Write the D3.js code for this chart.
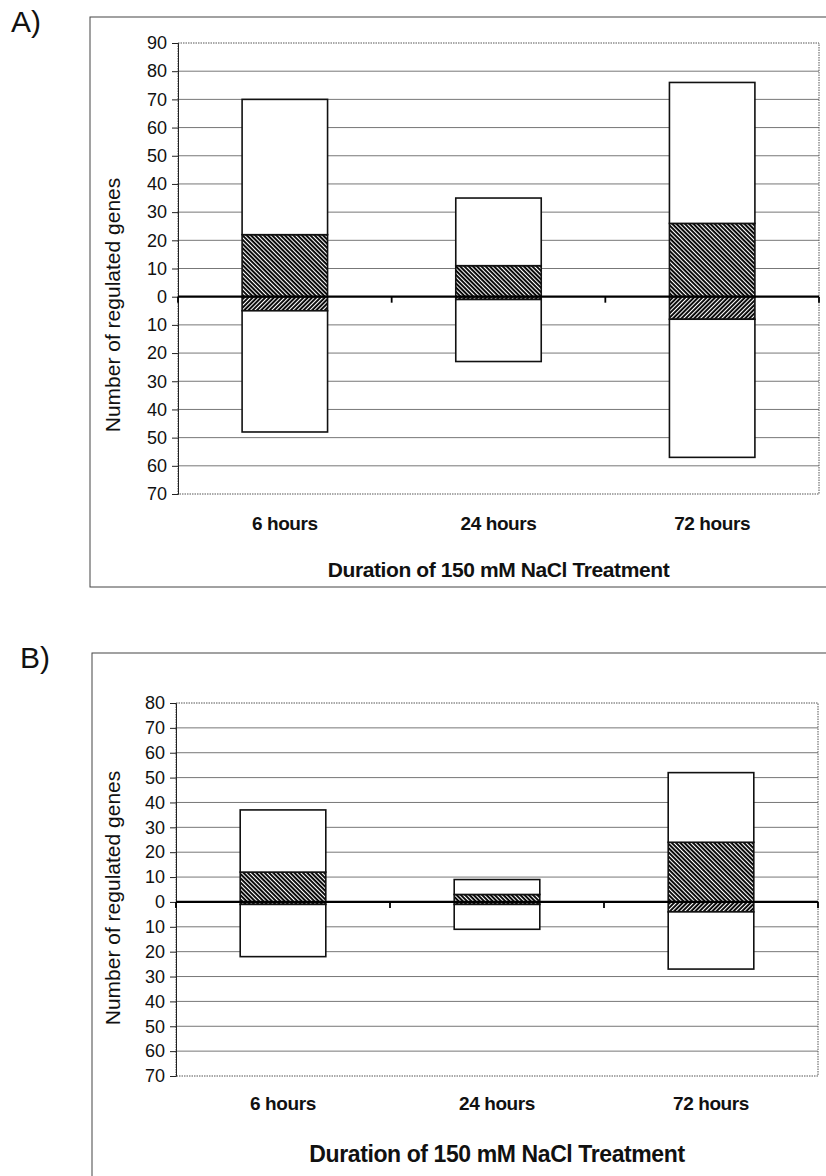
<!DOCTYPE html>
<html lang="en">
<head>
    <meta charset="UTF-8">
    <style>
        body { margin: 0; background: #fff; }
        svg text { font-family: "Liberation Sans", Arial, sans-serif; fill: #111; }
    </style>
    <script src="https://d3js.org/d3.v7.min.js"></script>
</head>
<body>
    <div id="chart"></div>

    <script>
        // categories shared by both panels
        var categories = ["6 hours", "24 hours", "72 hours"];

        // panel A values (number of genes)
        var aUpTotal = [70, 35, 76];
        var aUpHatched = [22, 11, 26];
        var aDownHatched = [5, 1, 8];
        var aDownTotal = [48, 23, 57];
        var aTicks = [90, 80, 70, 60, 50, 40, 30, 20, 10, 0, -10, -20, -30, -40, -50, -60, -70];

        // panel B values
        var bUpTotal = [37, 9, 52];
        var bUpHatched = [12, 3, 24];
        var bDownHatched = [1, 1, 4];
        var bDownTotal = [22, 11, 27];
        var bTicks = [80, 70, 60, 50, 40, 30, 20, 10, 0, -10, -20, -30, -40, -50, -60, -70];

        var yLabel = "Number of regulated genes";
        var xTitle = "Duration of 150 mM NaCl Treatment";

        var svg = d3.select("#chart").append("svg")
            .attr("width", 826)
            .attr("height", 1176);

        // hatch patterns: black with thin white diagonal stripes
        var defs = svg.append("defs");
        function hatch(id, angle) {
            var p = defs.append("pattern")
                .attr("id", id)
                .attr("patternUnits", "userSpaceOnUse")
                .attr("width", 3)
                .attr("height", 10)
                .attr("patternTransform", "rotate(" + angle + ")");
            p.append("rect").attr("width", 3).attr("height", 10).attr("fill", "#000");
            p.append("rect").attr("width", 1.1).attr("height", 10).attr("fill", "#fff");
        }
        hatch("hatchUp", -45);   // "\\\\"
        hatch("hatchDown", 45);  // "////"

        function drawPanel(cfg) {
            // outer frame
            svg.append("rect")
                .attr("x", cfg.box[0]).attr("y", cfg.box[1])
                .attr("width", cfg.box[2]).attr("height", cfg.box[3])
                .attr("fill", "none")
                .attr("stroke", "#444")
                .attr("stroke-width", 1);

            svg.append("text")
                .attr("x", cfg.letterX).attr("y", cfg.letterY)
                .style("font-size", "30px")
                .text(cfg.letter);

            var x = d3.scaleBand()
                .domain(categories)
                .range([cfg.left, cfg.right])
                .paddingInner(0.6)
                .paddingOuter(0.3);

            var y = d3.scaleLinear()
                .domain([-70, cfg.max])
                .range([cfg.bottom, cfg.top]);

            // gridlines
            svg.append("g")
                .selectAll("line")
                .data(cfg.ticks.filter(d => d !== cfg.max && d !== -70 && d !== 0))
                .enter().append("line")
                .attr("x1", cfg.left).attr("x2", cfg.right)
                .attr("y1", d => y(d)).attr("y2", d => y(d))
                .attr("stroke", "#777")
                .attr("stroke-width", 1);

            // plot area border (dotted)
            svg.append("rect")
                .attr("x", cfg.left).attr("y", cfg.top)
                .attr("width", cfg.right - cfg.left)
                .attr("height", cfg.bottom - cfg.top)
                .attr("fill", "none")
                .attr("stroke", "#555")
                .attr("stroke-dasharray", "1.5,1");

            // y axis
            var yAxis = svg.append("g")
                .attr("transform", "translate(" + cfg.left + ",0)")
                .call(d3.axisLeft(y).tickValues(cfg.ticks).tickSize(6).tickPadding(5)
                    .tickFormat(d => Math.abs(d)));
            yAxis.select(".domain").attr("stroke", "#222");
            yAxis.selectAll(".tick line").attr("stroke", "#222");
            yAxis.selectAll("text")
                .style("font-size", "18px")
                .attr("fill", "#111");

            // stacked segments
            var segments = [];
            categories.forEach(function(c, i) {
                segments.push({ cat: c, y0: 0, y1: cfg.upHatched[i], fill: "url(#hatchUp)" });
                segments.push({ cat: c, y0: cfg.upHatched[i], y1: cfg.upTotal[i], fill: "#fff" });
                segments.push({ cat: c, y0: 0, y1: -cfg.downHatched[i], fill: "url(#hatchDown)" });
                segments.push({ cat: c, y0: -cfg.downHatched[i], y1: -cfg.downTotal[i], fill: "#fff" });
            });

            svg.append("g")
                .selectAll("rect")
                .data(segments)
                .enter().append("rect")
                .attr("x", d => x(d.cat))
                .attr("width", x.bandwidth())
                .attr("y", d => y(Math.max(d.y0, d.y1)))
                .attr("height", d => Math.abs(y(d.y0) - y(d.y1)))
                .attr("fill", d => d.fill)
                .attr("stroke", "#111")
                .attr("stroke-width", 1.6);

            // zero line with category ticks
            svg.append("line")
                .attr("x1", cfg.left).attr("x2", cfg.right)
                .attr("y1", y(0)).attr("y2", y(0))
                .attr("stroke", "#000")
                .attr("stroke-width", 2.2);

            var step = (cfg.right - cfg.left) / categories.length;
            svg.append("g")
                .selectAll("line")
                .data(d3.range(categories.length + 1))
                .enter().append("line")
                .attr("x1", d => cfg.left + d * step).attr("x2", d => cfg.left + d * step)
                .attr("y1", y(0)).attr("y2", y(0) + 6)
                .attr("stroke", "#000")
                .attr("stroke-width", 1.8);

            // category labels
            svg.append("g")
                .selectAll("text")
                .data(categories)
                .enter().append("text")
                .attr("x", d => x(d) + x.bandwidth() / 2)
                .attr("y", cfg.catY)
                .attr("text-anchor", "middle")
                .style("font-size", "19px")
                .style("font-weight", "bold")
                .style("letter-spacing", "-0.4px")
                .text(d => d);

            // axis titles
            svg.append("text")
                .attr("x", (cfg.left + cfg.right) / 2)
                .attr("y", cfg.titleY)
                .attr("text-anchor", "middle")
                .style("font-size", cfg.titleSize + "px")
                .style("font-weight", "bold")
                .style("letter-spacing", "-0.4px")
                .text(xTitle);

            svg.append("text")
                .attr("transform", "translate(120," + cfg.labelY + ") rotate(-90)")
                .attr("text-anchor", "middle")
                .style("font-size", "21px")
                .text(yLabel);
        }

        drawPanel({
            letter: "A)", letterX: 11, letterY: 32,
            box: [90, 17, 740, 570],
            left: 178, right: 819, top: 43, bottom: 494, max: 90,
            ticks: aTicks,
            upTotal: aUpTotal, upHatched: aUpHatched,
            downHatched: aDownHatched, downTotal: aDownTotal,
            catY: 530, titleY: 577, titleSize: 21, labelY: 305
        });

        drawPanel({
            letter: "B)", letterX: 20, letterY: 668,
            box: [92, 653, 740, 540],
            left: 176, right: 818, top: 703, bottom: 1076, max: 80,
            ticks: bTicks,
            upTotal: bUpTotal, upHatched: bUpHatched,
            downHatched: bDownHatched, downTotal: bDownTotal,
            catY: 1110, titleY: 1162, titleSize: 23, labelY: 898
        });
    </script>
</body>
</html>
